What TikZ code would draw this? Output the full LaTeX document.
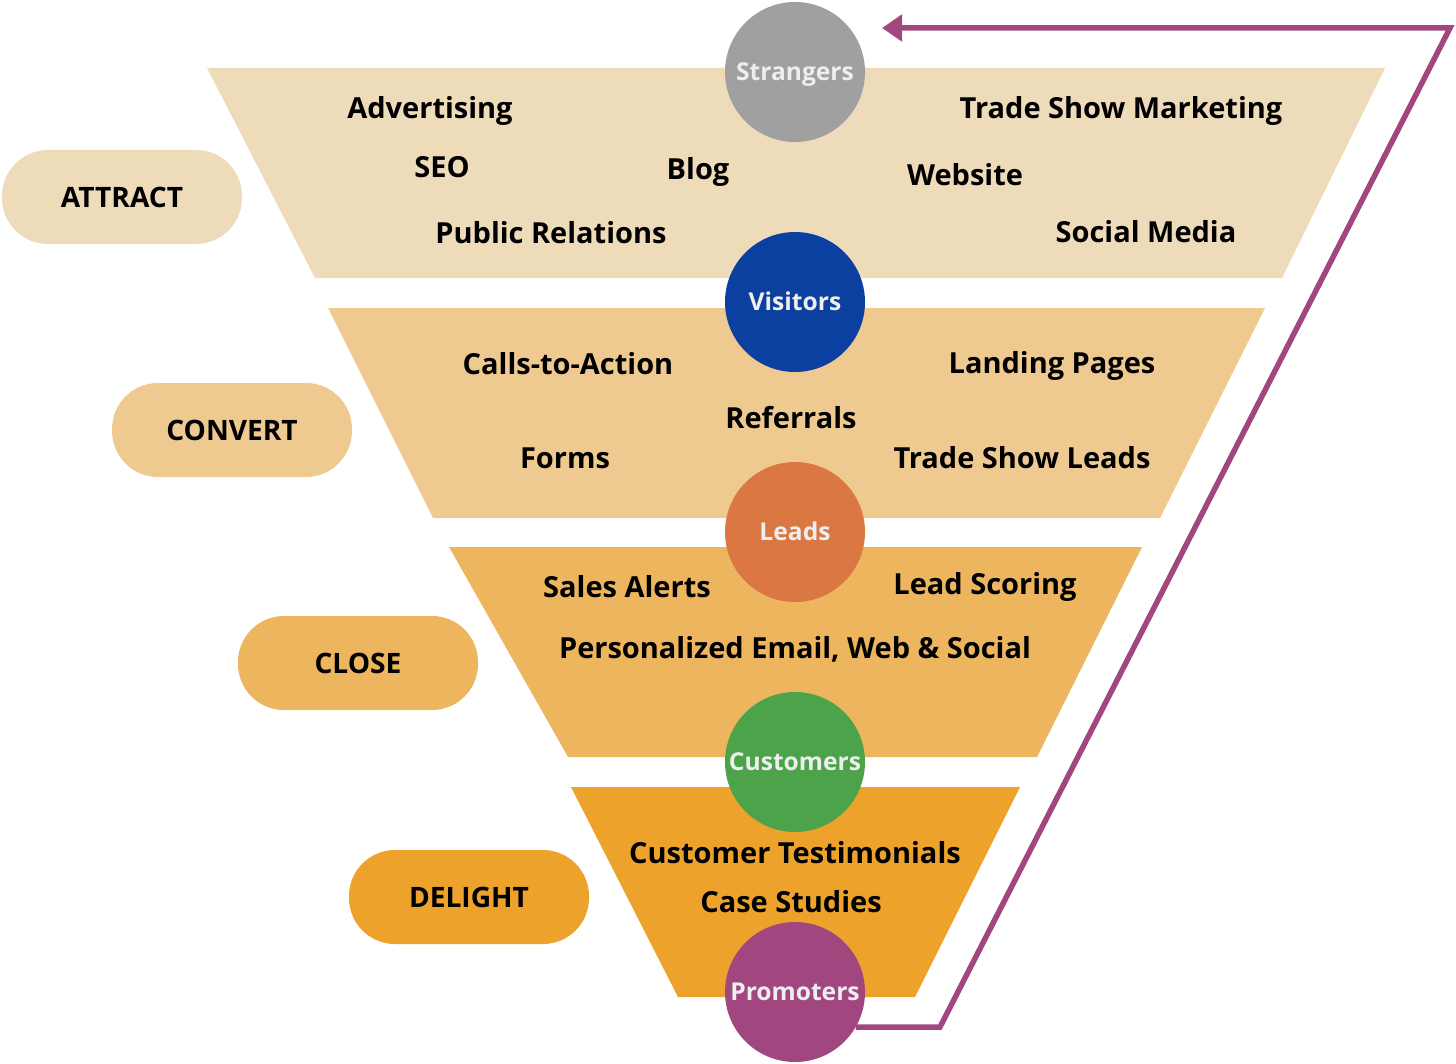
\documentclass[tikz,border=0pt]{standalone}
\usepackage{fontspec}
\setmainfont{Open Sans}
\usetikzlibrary{arrows.meta}
\definecolor{bandA}{HTML}{EEDBBA}
\definecolor{bandB}{HTML}{EFCA90}
\definecolor{bandC}{HTML}{EDB55D}
\definecolor{bandD}{HTML}{EDA22B}
\definecolor{cGray}{HTML}{A0A0A0}
\definecolor{cBlue}{HTML}{0B3FA0}
\definecolor{cOrange}{HTML}{DB7742}
\definecolor{cGreen}{HTML}{4DA34A}
\definecolor{cPurple}{HTML}{A1467E}
\definecolor{ltext}{HTML}{EEEEEE}
\tikzset{
  lbl/.style={font=\fontsize{16.5}{19}\selectfont\bfseries, text=black, inner sep=0pt, text height=11.9pt, text depth=0pt},
  stage/.style={circle, minimum size=140*0.02cm, inner sep=0pt, font=\fontsize{14}{16}\selectfont\bfseries, text=ltext, text height=10pt, text depth=0pt},
  pill/.style={rounded corners=46*0.02cm, minimum width=240*0.02cm, minimum height=94*0.02cm, inner sep=0pt, font=\fontsize{16}{19}\selectfont\bfseries},
  loop/.style={draw=cPurple, line width=5.5*0.02cm, -{Triangle[length=20*0.02cm,width=26*0.02cm]}}
}
\begin{document}
\begin{tikzpicture}[x=0.02cm,y=-0.02cm]
\useasboundingbox (0,0) rectangle (1456,1064);
% bands
\fill[bandA] (207,68) -- (1385,68) -- (1282,278) -- (315,278) -- cycle;
\fill[bandB] (328,308) -- (1265,308) -- (1160,518) -- (433,518) -- cycle;
\fill[bandC] (449,547) -- (1142,547) -- (1037,757) -- (568,757) -- cycle;
\fill[bandD] (571,787) -- (1020,787) -- (915,997) -- (678,997) -- cycle;
% pills
\node[pill, fill=bandA] (attract) at (122,197) {ATTRACT};
\node[pill, fill=bandB] (convert) at (232,430) {CONVERT};
\node[pill, fill=bandC] (close) at (358,663) {CLOSE};
\node[pill, fill=bandD] (delight) at (469,897) {DELIGHT};
% texts
\node[lbl] (t1) at (430,108) {Advertising};
\node[lbl] (t2) at (442,167) {SEO};
\node[lbl] (t3) at (698,169) {Blog};
\node[lbl] (t4) at (551,233) {Public Relations};
\node[lbl] (t5) at (1121,108) {Trade Show Marketing};
\node[lbl] (t6) at (965,175) {Website};
\node[lbl] (t7) at (1146,232) {Social Media};
\node[lbl] (t8) at (568,364) {Calls-to-Action};
\node[lbl] (t9) at (1052,363) {Landing Pages};
\node[lbl] (t10) at (791,418) {Referrals};
\node[lbl] (t11) at (565,458) {Forms};
\node[lbl] (t12) at (1022,458) {Trade Show Leads};
\node[lbl] (t13) at (627,587) {Sales Alerts};
\node[lbl] (t14) at (985,584) {Lead Scoring};
\node[lbl] (t15) at (795,648) {Personalized Email, Web \& Social};
\node[lbl] (t16) at (795,853) {Customer Testimonials};
\node[lbl] (t17) at (791,902) {Case Studies};
% circles
\node[stage, fill=cGray] (strangers) at (795,72) {Strangers};
\node[stage, fill=cBlue] (visitors) at (795,302) {Visitors};
\node[stage, fill=cOrange] (leads) at (795,532) {Leads};
\node[stage, fill=cGreen] (customers) at (795,762) {Customers};
\node[stage, fill=cPurple] (promoters) at (795,992) {Promoters};
% loop arrow
\coordinate (c1) at (940,1027);
\coordinate (c2) at (1450,28);
\coordinate (c3) at (882,28);
\draw[loop] (promoters.-30) -- (c1) -- (c2) -- (c3);
\end{tikzpicture}
\end{document}
